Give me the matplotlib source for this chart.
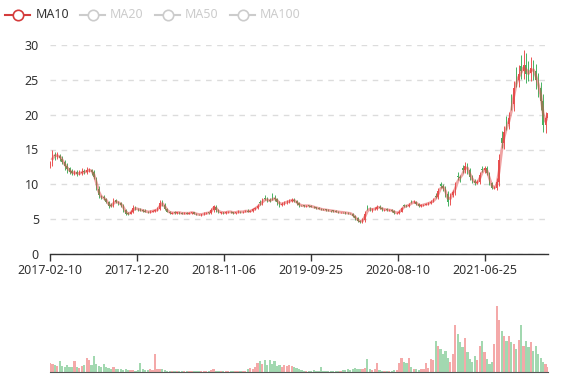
import numpy as np
import pandas as pd
import matplotlib
matplotlib.use("Agg")
import matplotlib.pyplot as plt
from matplotlib.lines import Line2D

plt.rcParams['font.family'] = ['Noto Sans', 'DejaVu Sans']

# one candle per ~6 trading days, 2017-02-10 .. early 2022
opens = [12.8,13.1,14.2,14.0,14.1,13.7,13.2,12.7,12.3,11.9,
         11.5,11.8,11.5,11.6,11.9,11.7,12.0,12.0,11.7,10.9,
         9.4,8.3,8.2,7.9,7.4,7.0,6.9,7.7,7.4,7.3,
         7.0,6.3,5.9,5.8,6.1,6.7,6.5,6.4,6.3,6.2,
         6.1,6.0,6.1,6.2,6.3,6.5,7.4,7.1,6.5,6.1,
         5.8,6.0,5.9,6.0,5.9,5.8,5.9,5.8,5.9,6.0,
         5.8,5.7,5.6,5.7,5.8,6.0,5.9,6.3,6.8,6.3,
         5.9,6.0,5.9,6.0,6.1,6.0,5.9,6.0,6.1,6.0,
         6.1,6.2,6.1,6.2,6.4,6.6,7.4,7.3,8.0,7.9,
         7.7,8.1,8.1,7.9,7.4,7.1,7.2,7.4,7.5,7.6,
         7.8,7.6,7.3,7.0,6.95,6.9,6.95,6.9,6.8,6.7,
         6.6,6.5,6.4,6.35,6.3,6.25,6.2,6.15,6.1,6.0,
         6.0,5.95,5.9,5.85,5.8,5.5,5.1,4.8,4.6,4.9,
         6.7,6.5,6.3,6.4,6.5,6.8,6.6,6.4,6.4,6.3,
         6.3,6.2,5.9,5.9,6.1,7.0,7.0,6.9,7.5,7.4,
         7.5,7.2,6.9,7.0,7.1,7.2,7.3,7.5,8.3,8.2,
         10.0,9.8,9.5,8.6,7.4,8.5,8.9,11.2,11.0,12.3,
         12.0,12.7,12.0,11.0,10.5,10.2,10.3,12.2,12.0,12.3,
         11.6,10.2,9.5,9.5,10.3,16.6,16.0,19.0,18.6,22.0,
         21.5,25.6,25.0,27.0,26.3,27.2,26.4,26.0,26.7,26.2,
         25.0,23.8,22.0,18.5,19.5]
closes = [13.0,14.3,14.0,14.2,13.8,13.2,12.6,12.2,11.8,11.6,
          11.7,11.5,11.6,11.8,11.7,12.0,12.1,11.8,11.0,9.5,
          8.4,8.1,8.0,7.5,6.9,6.9,7.6,7.5,7.3,7.1,
          6.4,5.8,5.8,6.0,6.6,6.5,6.4,6.3,6.2,6.1,
          6.0,6.1,6.2,6.3,6.4,7.3,7.2,6.5,6.1,5.9,
          5.9,5.9,6.0,5.9,5.8,5.9,5.8,5.9,6.0,5.8,
          5.7,5.65,5.7,5.8,5.9,5.9,6.3,6.9,6.3,6.0,
          6.0,5.9,6.0,6.1,6.0,5.9,6.0,6.1,6.0,6.1,
          6.2,6.1,6.2,6.4,6.6,6.9,7.3,7.6,7.9,7.7,
          7.6,8.0,7.9,7.5,7.1,7.2,7.4,7.5,7.6,7.8,
          7.6,7.3,7.0,6.95,6.9,6.95,6.9,6.8,6.7,6.6,
          6.5,6.4,6.35,6.3,6.25,6.2,6.15,6.1,6.0,6.0,
          5.95,5.9,5.85,5.8,5.5,5.1,4.8,4.6,4.9,5.8,
          6.5,6.4,6.4,6.5,6.8,6.6,6.4,6.4,6.3,6.3,
          6.2,5.9,5.9,6.1,6.6,6.9,6.9,7.1,7.4,7.5,
          7.2,6.9,7.0,7.1,7.2,7.3,7.5,7.7,8.2,9.0,
          9.8,9.5,8.6,7.4,8.5,8.9,9.8,11.0,10.9,12.0,
          12.7,12.0,11.0,10.5,10.2,10.3,11.3,12.0,12.3,11.6,
          10.2,9.5,9.5,10.3,13.5,16.0,17.5,18.6,19.5,21.5,
          23.8,25.0,25.8,26.3,27.2,25.8,26.0,26.7,26.2,25.0,
          23.8,22.0,18.5,19.5,20.3]
upper_wick = [0.3,0.7,0.4,0.5,0.3,0.4,0.3,0.4,0.2,0.3,
              0.3,0.2,0.4,0.6,0.3,0.5,0.3,0.2,0.3,0.2,
              0.3,0.2,0.3,0.2,0.2,0.3,0.4,0.2,0.2,0.2,
              0.2,0.1,0.2,0.3,0.4,0.2,0.1,0.2,0.1,0.2,
              0.1,0.2,0.1,0.2,0.3,0.5,0.3,0.2,0.1,0.1,
              0.1,0.2,0.1,0.1,0.2,0.1,0.1,0.2,0.1,0.1,
              0.1,0.1,0.1,0.2,0.1,0.1,0.3,0.2,0.2,0.1,
              0.1,0.1,0.2,0.1,0.1,0.1,0.1,0.2,0.1,0.1,
              0.1,0.2,0.1,0.2,0.2,0.3,0.3,0.4,0.5,0.3,
              0.3,0.6,0.3,0.2,0.2,0.3,0.2,0.3,0.3,0.3,
              0.2,0.1,0.2,0.1,0.1,0.1,0.1,0.1,0.1,0.1,
              0.1,0.1,0.1,0.1,0.1,0.1,0.1,0.1,0.1,0.1,
              0.1,0.1,0.1,0.1,0.1,0.1,0.2,0.1,0.2,0.4,
              0.3,0.2,0.2,0.3,0.3,0.2,0.2,0.1,0.2,0.1,
              0.1,0.1,0.1,0.2,0.2,0.2,0.1,0.2,0.2,0.2,
              0.1,0.1,0.2,0.1,0.1,0.2,0.2,0.3,0.4,0.5,
              0.4,0.3,0.3,0.4,0.3,0.3,0.5,0.6,0.4,0.5,
              0.5,0.4,0.3,0.3,0.2,0.3,0.5,0.4,0.4,0.3,
              0.2,0.2,0.3,0.6,0.8,1.0,0.9,0.8,0.9,1.0,
              1.0,1.2,1.3,1.5,2.1,1.6,1.3,1.6,1.2,1.1,
              1.0,0.9,1.0,0.9,0.8]
lower_wick = [0.4,0.4,0.5,0.3,0.4,0.3,0.5,0.6,0.3,0.2,
              0.2,0.3,0.2,0.3,0.2,0.2,0.3,0.4,0.3,0.3,
              0.3,0.2,0.2,0.2,0.3,0.2,0.2,0.2,0.2,0.3,
              0.3,0.2,0.2,0.1,0.2,0.2,0.2,0.1,0.1,0.1,
              0.1,0.1,0.1,0.1,0.1,0.2,0.3,0.2,0.1,0.1,
              0.1,0.1,0.1,0.1,0.1,0.1,0.1,0.1,0.1,0.1,
              0.1,0.1,0.1,0.1,0.1,0.1,0.1,0.3,0.2,0.1,
              0.1,0.1,0.1,0.1,0.1,0.1,0.1,0.1,0.1,0.1,
              0.1,0.1,0.1,0.1,0.1,0.2,0.2,0.2,0.2,0.3,
              0.2,0.2,0.3,0.4,0.3,0.2,0.2,0.2,0.2,0.2,
              0.2,0.2,0.2,0.1,0.1,0.1,0.1,0.1,0.1,0.1,
              0.1,0.1,0.1,0.1,0.1,0.1,0.1,0.1,0.1,0.1,
              0.1,0.1,0.1,0.1,0.2,0.2,0.2,0.2,0.2,0.3,
              0.2,0.2,0.2,0.1,0.2,0.2,0.2,0.2,0.1,0.1,
              0.1,0.2,0.2,0.1,0.1,0.1,0.2,0.1,0.1,0.1,
              0.2,0.1,0.1,0.1,0.1,0.1,0.1,0.1,0.2,0.3,
              0.3,0.4,0.4,0.5,0.3,0.3,0.4,0.4,0.5,0.4,
              0.4,0.5,0.4,0.3,0.3,0.2,0.3,0.3,0.4,0.3,
              0.3,0.2,0.2,0.3,0.6,0.8,0.9,0.8,0.7,0.9,
              1.0,1.0,1.1,1.2,1.2,1.3,1.2,1.1,1.2,1.3,
              1.2,1.3,1.0,1.1,0.8]
volumes = [14,12,10,9,17,9,8,11,7,8,
           17,7,6,9,10,22,19,10,25,12,
           9,7,12,8,6,5,8,5,4,5,
           3,4,3,3,3,2,3,13,4,3,
           3,4,3,27,4,5,4,3,2,2,
           2,1,1,1,1,1,2,1,1,1,
           1,1,1,1,1,1,3,4,1,1,
           1,1,2,1,1,1,1,1,1,2,
           2,4,6,5,8,14,17,12,18,10,
           19,12,17,9,11,8,10,9,10,9,
           8,6,4,3,2,2,2,2,3,2,
           2,8,2,2,1,2,2,2,2,2,
           3,3,4,3,5,6,5,4,5,6,
           20,5,3,4,13,3,2,2,2,2,
           2,3,3,14,22,16,13,22,8,4,
           4,3,4,4,13,6,20,18,48,40,
           35,28,32,22,15,28,72,58,45,38,
           52,30,20,15,24,18,40,48,30,20,
           12,15,42,100,80,62,55,48,55,45,
           42,35,49,72,40,48,38,45,32,40,
           28,22,15,12,8]

tick_labels = ['2017-02-10', '2017-12-20', '2018-11-06',
               '2019-09-25', '2020-08-10', '2021-06-25']
legend_names = ['MA10', 'MA20', 'MA50', 'MA100']

UP = '#eb5454'
DOWN = '#47b262'

o = np.array(opens)
c = np.array(closes)
hi = np.maximum(o, c) + np.array(upper_wick)
lo = np.minimum(o, c) - np.array(lower_wick)
x = np.arange(len(c))
cols = [UP if cc >= oo else DOWN for oo, cc in zip(o, c)]
ma10 = pd.Series(c).rolling(2).mean()

fig = plt.figure(figsize=(5.77, 3.8), dpi=100)
ax = fig.add_axes([50/577, 126/380, 498/577, 209/380])
ax2 = fig.add_axes([50/577, 8/380, 498/577, 82/380])

# price pane
ax.vlines(x, lo, hi, colors=cols, linewidth=0.7, zorder=2)
body = np.where(np.abs(c - o) < 0.05, 0.05, c - o)
ax.bar(x, body, bottom=o, width=0.6, color=cols, linewidth=0, zorder=3)
ax.plot(x, ma10, color='#e04848', alpha=0.5, linewidth=2, zorder=4)

ax.set_xlim(0, len(c) - 1)
ax.set_ylim(0, 30)
ax.set_yticks([0, 5, 10, 15, 20, 25, 30])
step = 214 / 6
ax.set_xticks([i * step for i in range(len(tick_labels))])
ax.set_xticklabels(tick_labels)
ax.grid(axis='y', color='#dcdcdc', linestyle=(0, (4, 4)), linewidth=1)
ax.set_axisbelow(True)
for s in ['top', 'right', 'left']:
    ax.spines[s].set_visible(False)
ax.spines['bottom'].set_color('#333333')
ax.spines['bottom'].set_linewidth(1)
ax.tick_params(axis='x', length=5, width=1, color='#333333', pad=2,
               labelsize=9, labelcolor='#333333')
ax.tick_params(axis='y', length=0, pad=8, labelsize=9, labelcolor='#333333')

# volume pane
ax2.bar(x, volumes, width=0.9, color=cols, alpha=0.5, linewidth=0)
ax2.set_xlim(0, len(c) - 1)
ax2.set_ylim(0, 125)
ax2.set_xticks([])
ax2.set_yticks([])
for s in ['top', 'right', 'left']:
    ax2.spines[s].set_visible(False)
ax2.spines['bottom'].set_color('#555555')
ax2.spines['bottom'].set_linewidth(0.8)

# legend
icon_x = [5, 80, 155, 230]
text_x = [36, 110, 185, 260]
for k, name in enumerate(legend_names):
    col = '#d43c3c' if k == 0 else '#cccccc'
    tcol = '#333333' if k == 0 else '#cccccc'
    x0 = icon_x[k]
    fig.add_artist(Line2D([x0/577, (x0 + 25)/577], [1 - 15/380, 1 - 15/380],
                          color=col, linewidth=1.5))
    fig.add_artist(Line2D([(x0 + 12.5)/577], [1 - 15/380], marker='o',
                          markersize=7.5, markerfacecolor='white',
                          markeredgecolor=col, markeredgewidth=1.2))
    fig.text(text_x[k]/577, 1 - 15/380, name, fontsize=9, color=tcol,
             ha='left', va='center')

fig.savefig('out.png', dpi=100)
